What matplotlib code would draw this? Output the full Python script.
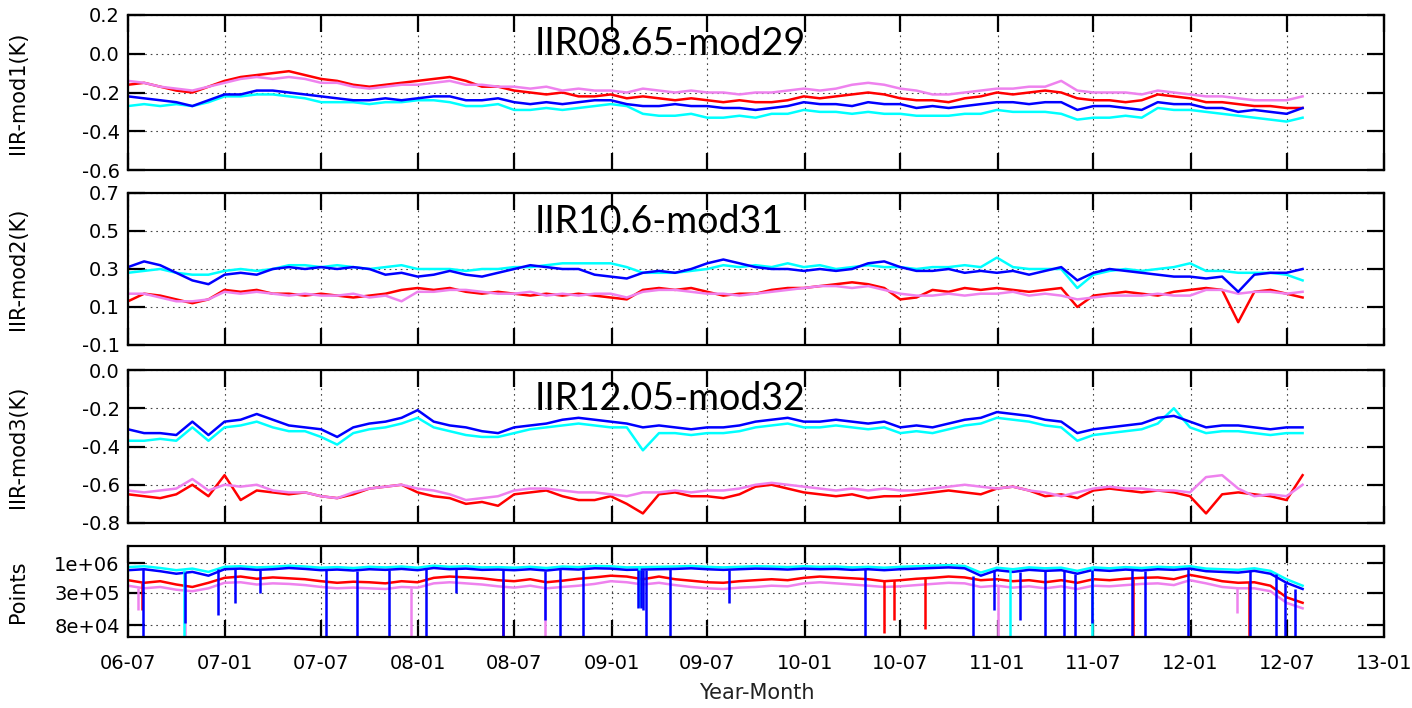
import matplotlib
matplotlib.use("Agg")
import matplotlib.pyplot as plt
import matplotlib.dates as mdates
import numpy as np
import pandas as pd

# roughly monthly samples, Jul 2006 .. end of Jul 2012
dates = pd.date_range("2006-07-01", "2012-07-31", periods=74)

# ---- IIR08.65 - mod29 ----
mod1_red = [-0.16, -0.15, -0.17, -0.19, -0.2, -0.17, -0.14, -0.12, -0.11, -0.1, -0.09, -0.11, -0.13, -0.14, -0.16,
            -0.17, -0.16, -0.15, -0.14, -0.13, -0.12, -0.14, -0.17, -0.17, -0.19, -0.2, -0.21, -0.2, -0.22, -0.22,
            -0.21, -0.23, -0.22, -0.23, -0.24, -0.23, -0.24, -0.25, -0.24, -0.25, -0.25, -0.24, -0.22, -0.23, -0.22,
            -0.21, -0.2, -0.21, -0.23, -0.24, -0.24, -0.25, -0.23, -0.22, -0.2, -0.21, -0.2, -0.19, -0.2, -0.23,
            -0.24, -0.24, -0.25, -0.24, -0.21, -0.22, -0.23, -0.25, -0.25, -0.26, -0.27, -0.27, -0.28, -0.28]
mod1_violet = [-0.14, -0.15, -0.17, -0.18, -0.19, -0.17, -0.15, -0.13, -0.12, -0.13, -0.12, -0.13, -0.15, -0.15, -0.17,
               -0.18, -0.17, -0.16, -0.16, -0.15, -0.14, -0.16, -0.16, -0.17, -0.17, -0.18, -0.17, -0.19, -0.18, -0.19,
               -0.19, -0.2, -0.18, -0.19, -0.2, -0.19, -0.2, -0.2, -0.21, -0.2, -0.2, -0.19, -0.18, -0.19, -0.18,
               -0.16, -0.15, -0.16, -0.18, -0.19, -0.21, -0.21, -0.2, -0.19, -0.18, -0.18, -0.17, -0.17, -0.14, -0.19,
               -0.2, -0.2, -0.2, -0.21, -0.19, -0.2, -0.21, -0.22, -0.22, -0.23, -0.24, -0.24, -0.24, -0.22]
mod1_cyan = [-0.27, -0.26, -0.27, -0.26, -0.27, -0.25, -0.22, -0.22, -0.21, -0.21, -0.22, -0.23, -0.25, -0.25, -0.25,
             -0.26, -0.25, -0.25, -0.24, -0.24, -0.25, -0.27, -0.27, -0.26, -0.29, -0.29, -0.28, -0.29, -0.28, -0.27,
             -0.26, -0.27, -0.31, -0.32, -0.32, -0.31, -0.33, -0.33, -0.32, -0.33, -0.31, -0.31, -0.29, -0.3, -0.3,
             -0.31, -0.3, -0.31, -0.31, -0.32, -0.32, -0.32, -0.31, -0.31, -0.29, -0.3, -0.3, -0.3, -0.31, -0.34,
             -0.33, -0.33, -0.32, -0.33, -0.28, -0.29, -0.29, -0.3, -0.31, -0.32, -0.33, -0.34, -0.35, -0.33]
mod1_blue = [-0.22, -0.23, -0.24, -0.25, -0.27, -0.24, -0.21, -0.21, -0.19, -0.19, -0.2, -0.21, -0.22, -0.23, -0.24,
             -0.24, -0.23, -0.24, -0.23, -0.22, -0.22, -0.24, -0.24, -0.23, -0.25, -0.26, -0.25, -0.26, -0.25, -0.24,
             -0.24, -0.26, -0.27, -0.27, -0.26, -0.27, -0.27, -0.28, -0.28, -0.29, -0.28, -0.27, -0.25, -0.26, -0.26,
             -0.27, -0.25, -0.26, -0.26, -0.28, -0.27, -0.28, -0.27, -0.26, -0.25, -0.25, -0.26, -0.25, -0.25, -0.29,
             -0.27, -0.27, -0.28, -0.29, -0.25, -0.26, -0.26, -0.28, -0.28, -0.3, -0.29, -0.3, -0.31, -0.28]

# ---- IIR10.6 - mod31 ----
mod2_red = [0.13, 0.17, 0.16, 0.14, 0.12, 0.14, 0.19, 0.18, 0.19, 0.17, 0.17, 0.16, 0.17, 0.16, 0.15,
            0.16, 0.17, 0.19, 0.2, 0.19, 0.2, 0.18, 0.17, 0.18, 0.17, 0.16, 0.17, 0.16, 0.17, 0.16,
            0.15, 0.14, 0.19, 0.2, 0.19, 0.2, 0.18, 0.16, 0.17, 0.17, 0.19, 0.2, 0.2, 0.21, 0.22,
            0.23, 0.22, 0.2, 0.14, 0.15, 0.19, 0.18, 0.2, 0.19, 0.2, 0.19, 0.18, 0.19, 0.2, 0.1,
            0.16, 0.17, 0.18, 0.17, 0.16, 0.18, 0.19, 0.2, 0.19, 0.02, 0.18, 0.19, 0.17, 0.15]
mod2_violet = [0.17, 0.17, 0.15, 0.13, 0.13, 0.14, 0.18, 0.17, 0.18, 0.17, 0.16, 0.17, 0.16, 0.16, 0.17,
               0.15, 0.16, 0.13, 0.18, 0.18, 0.19, 0.19, 0.18, 0.17, 0.17, 0.18, 0.16, 0.17, 0.16, 0.17,
               0.17, 0.15, 0.18, 0.19, 0.19, 0.18, 0.17, 0.17, 0.16, 0.17, 0.18, 0.19, 0.2, 0.21, 0.21,
               0.2, 0.21, 0.19, 0.17, 0.16, 0.16, 0.17, 0.16, 0.17, 0.17, 0.18, 0.16, 0.17, 0.16, 0.14,
               0.15, 0.16, 0.16, 0.16, 0.17, 0.16, 0.16, 0.19, 0.19, 0.17, 0.18, 0.18, 0.17, 0.18]
mod2_cyan = [0.28, 0.29, 0.3, 0.28, 0.27, 0.27, 0.29, 0.3, 0.29, 0.3, 0.32, 0.32, 0.31, 0.32, 0.31,
             0.3, 0.31, 0.32, 0.3, 0.3, 0.3, 0.29, 0.3, 0.3, 0.31, 0.31, 0.32, 0.33, 0.33, 0.33,
             0.33, 0.31, 0.28, 0.28, 0.28, 0.29, 0.3, 0.32, 0.31, 0.32, 0.31, 0.33, 0.31, 0.32, 0.3,
             0.31, 0.32, 0.31, 0.31, 0.3, 0.31, 0.31, 0.32, 0.31, 0.36, 0.31, 0.3, 0.3, 0.3, 0.2,
             0.27, 0.29, 0.3, 0.29, 0.3, 0.31, 0.33, 0.29, 0.29, 0.28, 0.28, 0.28, 0.27, 0.24]
mod2_blue = [0.31, 0.34, 0.32, 0.28, 0.24, 0.22, 0.27, 0.28, 0.27, 0.3, 0.31, 0.3, 0.31, 0.3, 0.31,
             0.3, 0.27, 0.28, 0.26, 0.27, 0.29, 0.27, 0.26, 0.28, 0.3, 0.32, 0.31, 0.3, 0.3, 0.27,
             0.26, 0.25, 0.28, 0.29, 0.28, 0.3, 0.33, 0.35, 0.33, 0.31, 0.3, 0.3, 0.29, 0.3, 0.29,
             0.3, 0.33, 0.34, 0.31, 0.29, 0.29, 0.3, 0.28, 0.29, 0.28, 0.29, 0.27, 0.29, 0.31, 0.24,
             0.28, 0.3, 0.29, 0.28, 0.27, 0.26, 0.26, 0.25, 0.26, 0.18, 0.27, 0.28, 0.28, 0.3]

# ---- IIR12.05 - mod32 ----
mod3_red = [-0.65, -0.66, -0.67, -0.65, -0.6, -0.66, -0.55, -0.68, -0.63, -0.64, -0.65, -0.64, -0.66, -0.67, -0.65,
            -0.62, -0.61, -0.6, -0.64, -0.66, -0.67, -0.7, -0.69, -0.71, -0.65, -0.64, -0.63, -0.66, -0.68, -0.68,
            -0.66, -0.7, -0.75, -0.65, -0.64, -0.66, -0.66, -0.67, -0.65, -0.61, -0.6, -0.62, -0.64, -0.65, -0.66,
            -0.65, -0.67, -0.66, -0.66, -0.65, -0.64, -0.63, -0.64, -0.65, -0.62, -0.61, -0.63, -0.66, -0.65, -0.67,
            -0.63, -0.62, -0.63, -0.64, -0.63, -0.64, -0.66, -0.75, -0.65, -0.64, -0.65, -0.66, -0.68, -0.55]
mod3_violet = [-0.63, -0.64, -0.63, -0.62, -0.57, -0.63, -0.6, -0.61, -0.6, -0.63, -0.64, -0.64, -0.66, -0.67, -0.64,
               -0.62, -0.61, -0.6, -0.62, -0.63, -0.65, -0.68, -0.67, -0.66, -0.63, -0.62, -0.62, -0.63, -0.64, -0.64,
               -0.65, -0.66, -0.64, -0.64, -0.63, -0.64, -0.63, -0.63, -0.62, -0.6, -0.59, -0.6, -0.61, -0.62, -0.63,
               -0.62, -0.63, -0.62, -0.63, -0.63, -0.62, -0.61, -0.6, -0.61, -0.62, -0.61, -0.63, -0.64, -0.66, -0.64,
               -0.62, -0.61, -0.62, -0.62, -0.63, -0.63, -0.64, -0.56, -0.55, -0.62, -0.66, -0.65, -0.66, -0.6]
mod3_cyan = [-0.37, -0.37, -0.36, -0.37, -0.3, -0.37, -0.3, -0.29, -0.27, -0.3, -0.32, -0.32, -0.35, -0.39, -0.33,
             -0.31, -0.3, -0.28, -0.25, -0.3, -0.32, -0.34, -0.35, -0.35, -0.33, -0.31, -0.3, -0.29, -0.28, -0.29,
             -0.3, -0.3, -0.42, -0.33, -0.33, -0.34, -0.33, -0.33, -0.32, -0.3, -0.29, -0.28, -0.3, -0.3, -0.29,
             -0.3, -0.31, -0.3, -0.33, -0.32, -0.33, -0.31, -0.29, -0.28, -0.25, -0.26, -0.27, -0.29, -0.3, -0.37,
             -0.34, -0.33, -0.32, -0.31, -0.28, -0.2, -0.3, -0.33, -0.32, -0.32, -0.33, -0.34, -0.33, -0.33]
mod3_blue = [-0.31, -0.33, -0.33, -0.34, -0.27, -0.34, -0.27, -0.26, -0.23, -0.26, -0.29, -0.3, -0.31, -0.35, -0.3,
             -0.28, -0.27, -0.25, -0.21, -0.27, -0.29, -0.3, -0.32, -0.33, -0.3, -0.29, -0.28, -0.26, -0.25, -0.26,
             -0.27, -0.28, -0.3, -0.29, -0.3, -0.31, -0.3, -0.3, -0.29, -0.27, -0.26, -0.25, -0.27, -0.27, -0.26,
             -0.27, -0.28, -0.27, -0.3, -0.29, -0.3, -0.28, -0.26, -0.25, -0.22, -0.23, -0.24, -0.26, -0.27, -0.33,
             -0.31, -0.3, -0.29, -0.28, -0.25, -0.24, -0.27, -0.3, -0.29, -0.29, -0.3, -0.31, -0.3, -0.3]

# ---- collocated points ----
pts_red = [5.0e5, 4.5e5, 4.8e5, 4.2e5, 3.8e5, 4.5e5, 5.5e5, 5.8e5, 5.3e5, 5.6e5, 5.4e5, 5.2e5, 4.8e5, 4.5e5, 4.7e5,
           4.6e5, 4.4e5, 4.8e5, 4.6e5, 5.5e5, 5.8e5, 5.6e5, 5.4e5, 5.0e5, 4.8e5, 5.2e5, 4.6e5, 4.9e5, 5.3e5, 5.6e5,
           6.0e5, 5.8e5, 5.2e5, 5.8e5, 5.2e5, 4.9e5, 4.6e5, 4.5e5, 4.8e5, 5.0e5, 5.2e5, 5.0e5, 5.5e5, 5.8e5, 5.6e5,
           5.4e5, 5.2e5, 4.8e5, 5.0e5, 5.3e5, 5.5e5, 5.8e5, 5.6e5, 5.0e5, 5.2e5, 4.8e5, 5.0e5, 4.6e5, 5.0e5, 4.5e5,
           5.2e5, 5.0e5, 5.3e5, 5.5e5, 5.6e5, 5.2e5, 6.2e5, 5.5e5, 4.8e5, 4.5e5, 4.6e5, 4.0e5, 2.5e5, 2.0e5]
pts_violet = [4.0e5, 3.6e5, 3.8e5, 3.4e5, 3.2e5, 3.6e5, 4.5e5, 4.6e5, 4.2e5, 4.4e5, 4.3e5, 4.1e5, 3.8e5, 3.6e5, 3.7e5,
              3.6e5, 3.5e5, 3.8e5, 3.7e5, 4.4e5, 4.6e5, 4.4e5, 4.2e5, 3.9e5, 3.7e5, 4.0e5, 3.6e5, 3.8e5, 4.0e5, 4.3e5,
              4.8e5, 4.6e5, 4.2e5, 4.5e5, 4.1e5, 3.8e5, 3.6e5, 3.5e5, 3.7e5, 3.8e5, 4.0e5, 3.9e5, 4.4e5, 4.6e5, 4.4e5,
              4.2e5, 4.0e5, 3.8e5, 3.9e5, 4.1e5, 4.3e5, 4.5e5, 4.4e5, 3.8e5, 4.0e5, 3.7e5, 3.9e5, 3.6e5, 3.9e5, 3.5e5,
              4.0e5, 3.9e5, 4.1e5, 4.3e5, 4.4e5, 4.1e5, 5.0e5, 4.4e5, 3.8e5, 3.6e5, 3.6e5, 3.2e5, 2.0e5, 1.6e5]
pts_cyan = [8.5e5, 8.8e5, 8.2e5, 7.5e5, 8.0e5, 7.0e5, 8.6e5, 8.8e5, 8.4e5, 8.6e5, 9.0e5, 8.7e5, 8.3e5, 8.5e5, 8.2e5,
            8.6e5, 8.4e5, 8.7e5, 8.3e5, 9.0e5, 8.6e5, 8.8e5, 8.4e5, 8.5e5, 8.3e5, 8.6e5, 8.2e5, 8.7e5, 8.5e5, 8.9e5,
            8.8e5, 8.4e5, 8.5e5, 8.6e5, 8.7e5, 8.9e5, 8.6e5, 8.4e5, 8.6e5, 8.8e5, 8.7e5, 8.5e5, 8.8e5, 8.6e5, 8.7e5,
            8.4e5, 8.6e5, 8.3e5, 8.6e5, 8.8e5, 9.0e5, 9.2e5, 8.9e5, 6.8e5, 8.3e5, 7.8e5, 8.4e5, 8.1e5, 8.3e5, 7.3e5,
            8.4e5, 8.1e5, 8.5e5, 8.2e5, 8.6e5, 8.4e5, 8.8e5, 8.0e5, 7.8e5, 7.6e5, 8.1e5, 7.3e5, 5.2e5, 4.0e5]
pts_blue = [7.5e5, 7.8e5, 7.2e5, 6.5e5, 7.0e5, 6.0e5, 7.8e5, 8.0e5, 7.6e5, 7.8e5, 8.2e5, 7.9e5, 7.5e5, 7.7e5, 7.4e5,
            7.8e5, 7.6e5, 7.9e5, 7.5e5, 8.2e5, 7.8e5, 8.0e5, 7.6e5, 7.7e5, 7.5e5, 7.8e5, 7.4e5, 7.9e5, 7.7e5, 8.1e5,
            8.0e5, 7.6e5, 7.7e5, 7.8e5, 7.9e5, 8.1e5, 7.8e5, 7.6e5, 7.8e5, 8.0e5, 7.9e5, 7.7e5, 8.0e5, 7.8e5, 7.9e5,
            7.6e5, 7.8e5, 7.5e5, 7.8e5, 8.0e5, 8.2e5, 8.4e5, 8.1e5, 6.0e5, 7.5e5, 7.0e5, 7.6e5, 7.3e5, 7.5e5, 6.5e5,
            7.6e5, 7.3e5, 7.7e5, 7.4e5, 7.8e5, 7.6e5, 8.0e5, 7.2e5, 7.0e5, 6.8e5, 7.3e5, 6.5e5, 4.5e5, 3.5e5]

# daily drop-outs in the point counts (date, lowest value)
blue_drop_dates = ["2006-07-29", "2006-10-16", "2006-12-19", "2007-01-19", "2007-03-07", "2007-07-10", "2007-09-07",
                   "2007-11-07", "2008-01-16", "2008-03-13", "2008-06-10", "2008-08-28", "2008-09-25", "2008-11-07",
                   "2009-02-20", "2009-02-25", "2009-03-02", "2009-03-07", "2009-04-22", "2009-08-10", "2010-04-25",
                   "2010-11-16", "2010-12-25", "2011-02-12", "2011-04-01", "2011-05-07", "2011-05-28", "2011-06-28",
                   "2011-09-13", "2011-10-07", "2011-12-28", "2012-04-22", "2012-06-10", "2012-06-28", "2012-07-16"]
blue_drop_vals = [4e4, 9e4, 1.2e5, 2e5, 3e5, 4e4, 4e4, 4e4, 4e4, 3e5, 4e4, 1e5, 4e4, 4e4,
                  1.6e5, 1.6e5, 1.5e5, 4e4, 4e4, 2e5, 4e4,
                  4e4, 1.5e5, 1e5, 4e4, 4e4, 4e4, 9e4, 4e4, 4e4, 4e4, 4e4, 4e4, 4e4, 4e4]
red_drop_dates = ["2006-07-28", "2008-06-10", "2010-06-01", "2010-06-19", "2010-08-16", "2011-09-14", "2012-04-20"]
red_drop_vals = [1.5e5, 4e4, 6e4, 1e5, 7e4, 4e4, 4e4]
violet_drop_dates = ["2006-07-20", "2006-10-16", "2007-12-19", "2008-08-28", "2011-01-02", "2012-03-28"]
violet_drop_vals = [1.5e5, 4e4, 4e4, 4e4, 4e4, 1.3e5]
cyan_drop_dates = ["2006-10-15", "2009-02-22", "2011-01-25", "2011-06-29"]
cyan_drop_vals = [4e4, 1.7e5, 4e4, 4e4]

xtick_dates = pd.date_range("2006-07-01", "2013-01-01", freq="6MS")

colors = {"red": "#ff0000", "violet": "#ee82ee", "cyan": "#00ffff", "blue": "#0000ff"}

W, H = 1412, 708
fig = plt.figure(figsize=(W / 100, H / 100), dpi=100)
plt.rcParams["font.family"] = "DejaVu Sans"


def rect(top, bottom):
    return [128 / W, 1 - bottom / H, (1384 - 128) / W, (bottom - top) / H]


ax1 = fig.add_axes(rect(15, 170))
ax2 = fig.add_axes(rect(193, 345))
ax3 = fig.add_axes(rect(370, 523))
ax4 = fig.add_axes(rect(546, 637))

panels = [
    (ax1, [mod1_red, mod1_violet, mod1_cyan, mod1_blue], (-0.6, 0.2), np.arange(-0.6, 0.21, 0.2), "IIR-mod1(K)"),
    (ax2, [mod2_red, mod2_violet, mod2_cyan, mod2_blue], (-0.1, 0.7), np.arange(-0.1, 0.71, 0.2), "IIR-mod2(K)"),
    (ax3, [mod3_red, mod3_violet, mod3_cyan, mod3_blue], (-0.8, 0.0), np.arange(-0.8, 0.01, 0.2), "IIR-mod3(K)"),
    (ax4, [pts_red, pts_violet, pts_cyan, pts_blue], (5e4, 2e6), None, "Points"),
]
order = ["red", "violet", "cyan", "blue"]

for ax, series, ylim, yt, lab in panels:
    for name, vals in zip(order, series):
        ax.plot(dates, vals, color=colors[name], lw=1.8)
    if ax is ax4:
        ax.set_yscale("log")
        ax.set_yticks([8e4, 3e5, 1e6])
        ax.set_yticklabels(["8e+04", "3e+05", "1e+06"])
        ax.minorticks_off()
    else:
        ax.set_yticks(yt)
        ax.set_yticklabels(["%.1f" % v if abs(v) > 1e-9 else "0.0" for v in yt])
    ax.set_ylim(*ylim)
    ax.set_xlim(pd.Timestamp("2006-07-01"), pd.Timestamp("2013-01-01"))
    ax.set_xticks(xtick_dates)
    ax.xaxis.set_major_formatter(mdates.DateFormatter("%y-%m"))
    ax.grid(True, color="#444444", lw=0.8, linestyle=(0, (1.5, 3.5)))
    ax.tick_params(direction="in", length=12, width=1.6, top=True, right=True, labelsize=14, pad=6)
    ax.tick_params(axis="x", pad=12)
    if ax is not ax4:
        ax.tick_params(labelbottom=False)
    for s in ax.spines.values():
        s.set_linewidth(1.6)
    pos = ax.get_position()
    fig.text(18 / W, pos.y0 + pos.height / 2, lab, rotation=90, ha="center", va="center", fontsize=15)

# drop-outs drawn as thin spikes from the monthly level down to the daily minimum
for name, ddates, dvals, base in [("red", red_drop_dates, red_drop_vals, pts_red),
                                  ("violet", violet_drop_dates, violet_drop_vals, pts_violet),
                                  ("cyan", cyan_drop_dates, cyan_drop_vals, pts_cyan),
                                  ("blue", blue_drop_dates, blue_drop_vals, pts_blue)]:
    dd = pd.to_datetime(ddates)
    tops = [base[np.abs((dates - d).days).argmin()] for d in dd]
    ax4.vlines(dd, dvals, tops, color=colors[name], lw=1.8)

titles = [("IIR08.65-mod29", 55), ("IIR10.6-mod31", 233), ("IIR12.05-mod32", 410)]
for t, yb in titles:
    fig.text(535 / W, 1 - yb / H, t, ha="left", va="baseline", fontsize=27, family="Lato", zorder=10)

fig.text(757 / W, 1 - 693 / H, "Year-Month", ha="center", va="center", fontsize=15, color="#222222")

fig.savefig("out.png", dpi=100)
